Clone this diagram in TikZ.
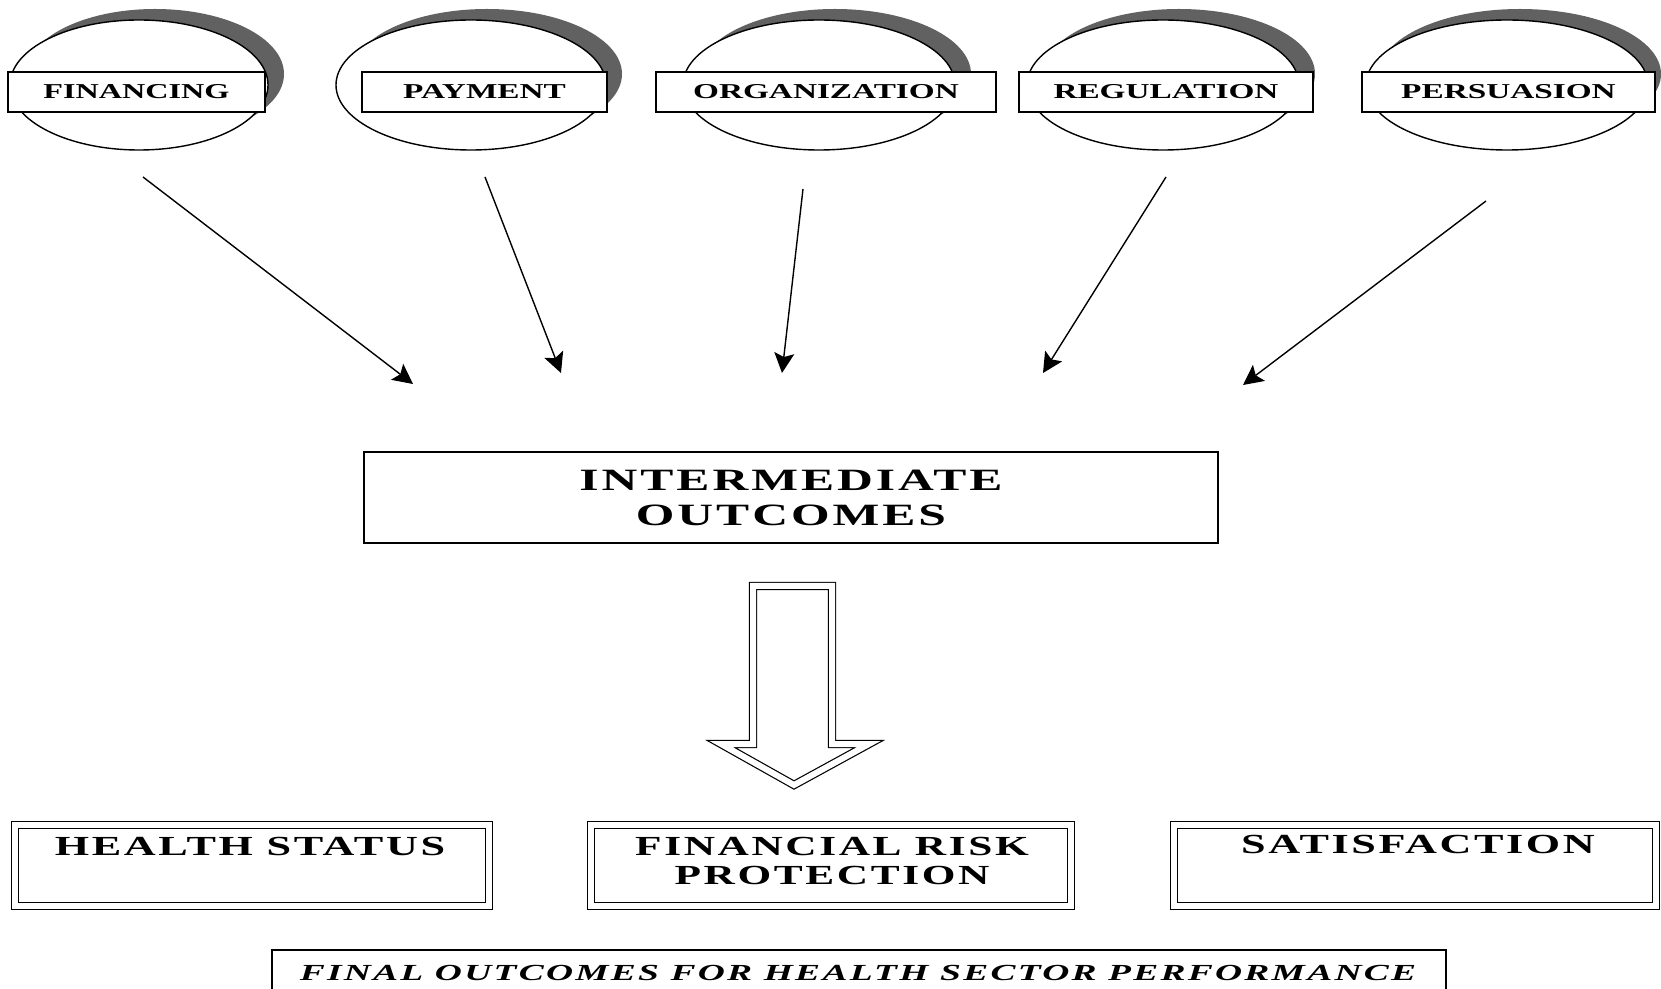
\documentclass[tikz,border=0pt]{standalone}
\usepackage{fontspec}
\usepackage{graphicx}
\setmainfont{Liberation Serif}
\newfontfamily\spfont[LetterSpace=6]{Liberation Serif}
\usetikzlibrary{arrows.meta,shapes.geometric}
\newcommand\xsq[2]{\scalebox{#1}[1]{#2}}
\begin{document}
\begin{tikzpicture}[x=0.5pt,y=-0.5pt,
  shadowell/.style={ellipse, draw=none, fill=black!62, inner sep=0pt, minimum height=65pt},
  topell/.style={ellipse, draw=black, line width=0.7pt, fill=white, inner sep=0pt, minimum height=65pt},
  lbl/.style={draw=black, line width=0.7pt, fill=white, inner sep=0pt, minimum height=20pt,
    font=\bfseries\fontsize{10.6}{12}\selectfont},
  thinarrow/.style={-{Stealth[length=10pt,width=10pt,inset=2pt]}, line width=0.7pt},
  midbox/.style={draw, line width=1pt, inner sep=0pt, minimum width=427pt, minimum height=45.5pt,
    align=center, font=\spfont\bfseries\fontsize{15.5}{17.5}\selectfont},
  dbox/.style={draw, double, double distance=3pt, line width=0.6pt, inner sep=0pt, minimum height=40.5pt},
  btext/.style={anchor=north, inner sep=0pt, align=center, font=\spfont\bfseries\fontsize{13.8}{14.5}\selectfont},
  finalbox/.style={draw, line width=0.8pt, inner sep=0pt, minimum width=587pt, minimum height=25pt},
  finaltext/.style={anchor=north, inner sep=0pt, font=\spfont\bfseries\itshape\fontsize{11.5}{13}\selectfont},
  hollow/.style={draw, double, double distance=3pt, line width=0.6pt, line join=miter}
]
\useasboundingbox (0,0) rectangle (1661,989);
\fill[white] (0,0) rectangle (1661,989);

% top ellipses with shadows
\node[shadowell, minimum width=129pt] (s1) at (155,74) {};
\node[topell, minimum width=129pt] (e1) at (139,85) {};
\node[shadowell, minimum width=135pt] (s2) at (487,74) {};
\node[topell, minimum width=135pt] (e2) at (471,85) {};
\node[shadowell, minimum width=136pt] (s3) at (835,74) {};
\node[topell, minimum width=136pt] (e3) at (819,85) {};
\node[shadowell, minimum width=136pt] (s4) at (1179,74) {};
\node[topell, minimum width=136pt] (e4) at (1163,85) {};
\node[shadowell, minimum width=141pt] (s5) at (1520,74) {};
\node[topell, minimum width=141pt] (e5) at (1507,85) {};

\node[lbl, minimum width=128.5pt] (l1) at (136.5,92) {\xsq{1.52}{FINANCING}};
\node[lbl, minimum width=122.5pt] (l2) at (484.5,92) {\xsq{1.57}{PAYMENT}};
\node[lbl, minimum width=170pt] (l3) at (826,92) {\xsq{1.57}{ORGANIZATION}};
\node[lbl, minimum width=147pt] (l4) at (1166,92) {\xsq{1.57}{REGULATION}};
\node[lbl, minimum width=146.5pt] (l5) at (1508.5,92) {\xsq{1.57}{PERSUASION}};

% arrow end points
\coordinate (a1) at (143,177);  \coordinate (b1) at (413,384);
\coordinate (a2) at (485,177);  \coordinate (b2) at (561,373);
\coordinate (a3) at (803,189);  \coordinate (b3) at (782,373);
\coordinate (a4) at (1166,177); \coordinate (b4) at (1043,373);
\coordinate (a5) at (1486,201); \coordinate (b5) at (1243,385);
\foreach \i in {1,...,5} \draw[thinarrow] (a\i) -- (b\i);

% intermediate outcomes
\node[midbox] (mid) at (791,497.5) {\xsq{1.6}{INTERMEDIATE}\\\xsq{1.6}{OUTCOMES}};

% hollow block arrow
\draw[hollow] (753,586) -- (753,744) -- (721,744) -- (794,785) -- (869,744) -- (832,744) -- (832,586) -- cycle;

% final outcome boxes
\node[dbox, minimum width=237pt] (hs) at (252,865.5) {};
\node[btext] (hst) at (250,837) {\xsq{1.6}{HEALTH STATUS}};
\node[dbox, minimum width=240pt] (fr) at (831,865.5) {};
\node[btext] (frt) at (832,837) {\xsq{1.57}{FINANCIAL RISK}\\\xsq{1.57}{PROTECTION}};
\node[dbox, minimum width=241pt] (sa) at (1415,865.5) {};
\node[btext] (sat) at (1418,835) {\xsq{1.6}{SATISFACTION}};

\node[finalbox] (fb) at (859,975) {};
\node[finaltext] (fbt) at (858,965) {\xsq{1.63}{FINAL OUTCOMES FOR HEALTH SECTOR PERFORMANCE}};
\end{tikzpicture}
\end{document}
